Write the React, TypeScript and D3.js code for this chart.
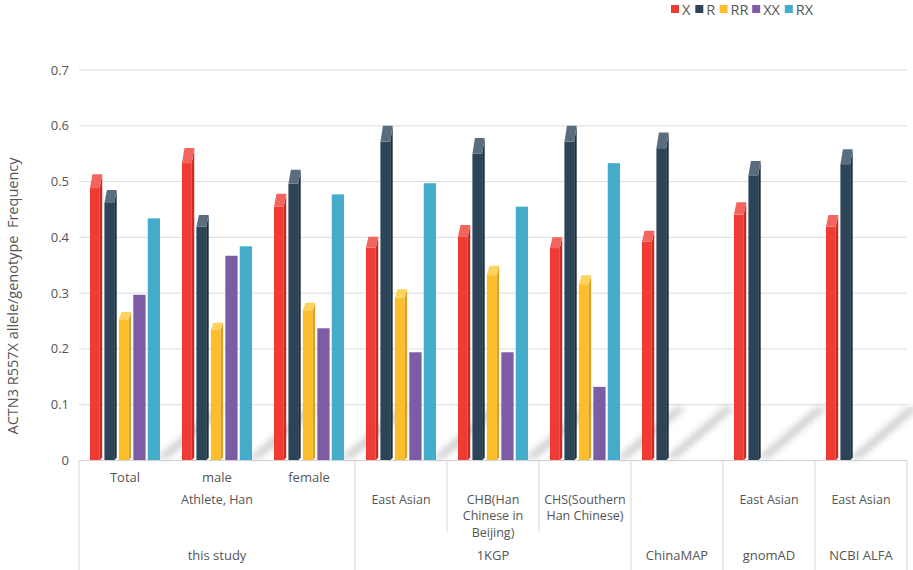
import React from "react";
import * as d3 from "d3";

const W = 913;
const H = 570;

const seriesKeys = ["X", "R", "RR", "XX", "RX"];
const seriesColors = ["#EE3B33", "#2B4457", "#FDBE2C", "#7D5CA6", "#44ADCB"];
const capColors = ["#F2645D", "#5A6D7E", "#FFD45E", "#7D5CA6", "#44ADCB"];
const sideColors = ["#C92C25", "#1C2F3D", "#DDA11E", "#7D5CA6", "#44ADCB"];
const is3D = [true, true, true, false, false];

const level1 = ["Total", "male", "female", "", "", "", "", "", ""];
const level2Labels = [["Athlete, Han"], ["East Asian"], ["CHB(Han", "Chinese in", "Beijing)"], ["CHS(Southern", "Han Chinese)"], [""], ["East Asian"], ["East Asian"]];
const level2Spans = [3, 1, 1, 1, 1, 1, 1];
const level3Labels = ["this study", "1KGP", "ChinaMAP", "gnomAD", "NCBI ALFA"];
const level3Spans = [3, 3, 1, 1, 1];

const valuesX = [0.513, 0.56, 0.478, 0.401, 0.422, 0.4, 0.412, 0.463, 0.44];
const valuesR = [0.485, 0.44, 0.521, 0.6, 0.578, 0.6, 0.588, 0.537, 0.558];
const valuesRR = [0.266, 0.247, 0.283, 0.307, 0.349, 0.332, null, null, null];
const valuesXX = [0.297, 0.367, 0.237, 0.194, 0.194, 0.132, null, null, null];
const valuesRX = [0.434, 0.384, 0.477, 0.497, 0.455, 0.533, null, null, null];
const seriesValues = [valuesX, valuesR, valuesRR, valuesXX, valuesRX];

const yTicks = [0, 0.1, 0.2, 0.3, 0.4, 0.5, 0.6, 0.7];
const yLabel = "ACTN3 R557X allele/genotype  Frequency";

const FONT = "'Open Sans', 'Noto Sans', sans-serif";
const TXT = "#555";
const GRID = "#dcdcdc";

export default function App() {
  const nCat = level1.length;
  const left = 79;
  const right = 907;
  const x0 = d3.scaleBand<number>().domain(d3.range(nCat)).range([left, right]).padding(0);
  const x1 = d3
    .scaleBand<string>()
    .domain(seriesKeys)
    .range([0, x0.bandwidth()])
    .paddingInner(0.15)
    .paddingOuter(0.76);
  const y = d3.scaleLinear().domain([0, 0.7]).range([460.5, 70]);
  const base = y(0);
  const bw = x1.bandwidth();
  const dx = 2.5;

  const starts2 = level2Spans.map((_, i) => d3.sum(level2Spans.slice(0, i)));
  const starts3 = level3Spans.map((_, i) => d3.sum(level3Spans.slice(0, i)));
  const fullDividers = new Set(starts3.concat([nCat]));

  let lx = 671;
  const legendItems = seriesKeys.map((k, i) => {
    const item = { k, i, sx: lx, tx: lx + 11 };
    lx = lx + 11 + k.length * 8.3 + 5;
    return item;
  });

  const shadows = d3.range(nCat).map((c) => {
    const present = seriesKeys.filter((_, si) => seriesValues[si][c] != null);
    const last = present[present.length - 1];
    const xe = (x0(c) as number) + (x1(last) as number) + bw;
    return `${xe - 4},${base - 2} ${xe + 8},${base - 2} ${xe + 66},${base - 52} ${xe + 56},${base - 54}`;
  });

  return (
    <svg width={W} height={H} style={{ position: "absolute", left: 0, top: 0, background: "#fff" }} fontFamily={FONT}>
      <defs>
        <filter id="blur" x="-50%" y="-50%" width="200%" height="200%">
          <feGaussianBlur stdDeviation="3" />
        </filter>
      </defs>

      {yTicks.map((t) => (
        <g key={t}>
          <line x1={left} x2={right} y1={y(t)} y2={y(t)} stroke={GRID} strokeWidth={1} />
          <text x={69} y={y(t)} dy="0.35em" textAnchor="end" fontSize={13} fill={TXT}>
            {t === 0 ? "0" : t.toFixed(1)}
          </text>
        </g>
      ))}

      <text
        transform={`translate(13,${296}) rotate(-90)`}
        textAnchor="middle"
        dy="0.35em"
        fontSize={14.5}
        fill={TXT}
        style={{ whiteSpace: "pre" }}
      >
        {yLabel}
      </text>

      {shadows.map((p, i) => (
        <polygon key={i} points={p} fill="#9a9a9a" opacity={0.45} filter="url(#blur)" />
      ))}

      {d3.range(nCat).map((c) => (
        <g key={c} transform={`translate(${x0(c)},0)`}>
          {seriesKeys.map((k, si) => {
            const v = seriesValues[si][c];
            if (v == null) return null;
            const bx = x1(k) as number;
            const yt = y(v);
            if (!is3D[si]) {
              return <rect key={k} x={bx} y={yt} width={bw} height={base - yt} fill={seriesColors[si]} />;
            }
            const capH = (base - yt) * 0.048;
            const fw = bw - dx;
            return (
              <g key={k}>
                <rect x={bx} y={yt + capH} width={fw} height={base - yt - capH} fill={seriesColors[si]} />
                <polygon
                  points={`${bx + fw},${yt + capH} ${bx + bw},${yt} ${bx + bw},${base - 3} ${bx + fw},${base}`}
                  fill={sideColors[si]}
                />
                <polygon
                  points={`${bx},${yt + capH} ${bx + fw},${yt + capH} ${bx + bw},${yt} ${bx + dx},${yt}`}
                  fill={capColors[si]}
                />
              </g>
            );
          })}
        </g>
      ))}

      <line x1={left} x2={right} y1={base} y2={base} stroke="#d0d0d0" strokeWidth={1} />

      {d3.range(nCat + 1).map((c) => {
        const xx = c === nCat ? right : (x0(c) as number);
        if (fullDividers.has(c)) {
          return <line key={c} x1={xx} x2={xx} y1={base} y2={H} stroke="#d6d6d6" strokeWidth={1} />;
        }
        if (starts2.includes(c)) {
          return <line key={c} x1={xx} x2={xx} y1={base} y2={532} stroke="#d6d6d6" strokeWidth={1} />;
        }
        return null;
      })}

      {level1.map((l, c) => (
        <text key={c} x={(x0(c) as number) + x0.bandwidth() / 2} y={477} dy="0.35em" textAnchor="middle" fontSize={13} fill={TXT}>
          {l}
        </text>
      ))}

      {level2Labels.map((lines, i) => {
        const cx = (x0(starts2[i]) as number) + (x0.bandwidth() * level2Spans[i]) / 2;
        return (
          <g key={i}>
            {lines.map((ln, j) => (
              <text key={j} x={cx} y={499.5 + j * 16.5} dy="0.35em" textAnchor="middle" fontSize={12.5} fill={TXT}>
                {ln}
              </text>
            ))}
          </g>
        );
      })}

      {level3Labels.map((l, i) => (
        <text
          key={i}
          x={(x0(starts3[i]) as number) + (x0.bandwidth() * level3Spans[i]) / 2}
          y={555}
          dy="0.35em"
          textAnchor="middle"
          fontSize={13}
          fill={TXT}
        >
          {l}
        </text>
      ))}

      {legendItems.map((it) => (
        <g key={it.k}>
          <rect x={it.sx} y={5} width={8} height={8} fill={seriesColors[it.i]} />
          <text x={it.tx} y={9.5} dy="0.35em" fontSize={14.5} fill={TXT}>
            {it.k}
          </text>
        </g>
      ))}
    </svg>
  );
}
